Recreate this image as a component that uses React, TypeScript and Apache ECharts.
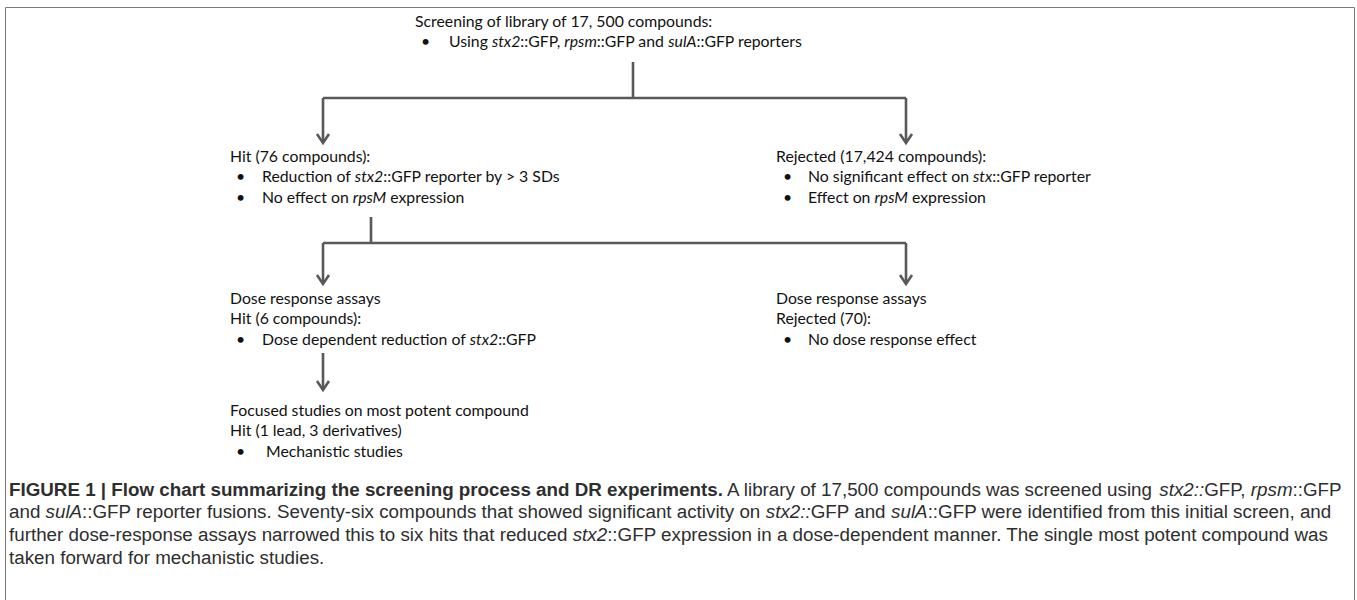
import React, { useEffect, useRef } from "react";
import * as echarts from "echarts";

// ---------- content (markup: _italic_, **bold**) ----------
const screeningTitle = ["Screening of library of 17, 500 compounds:"];
const screeningBullets = ["Using _stx2_::GFP, _rpsm_::GFP and _sulA_::GFP reporters"];

const hitTitle = ["Hit (76 compounds):"];
const hitBullets = ["Reduction of _stx2_::GFP reporter by > 3 SDs", "No effect on _rpsM_ expression"];

const rejectedTitle = ["Rejected (17,424 compounds):"];
const rejectedBullets = ["No significant effect on _stx_::GFP reporter", "Effect on _rpsM_ expression"];

const doseHitTitle = ["Dose response assays", "Hit (6 compounds):"];
const doseHitBullets = ["Dose dependent reduction of _stx2_::GFP"];

const doseRejTitle = ["Dose response assays", "Rejected (70):"];
const doseRejBullets = ["No dose response effect"];

const focusedTitle = ["Focused studies on most potent compound", "Hit (1 lead, 3 derivatives)"];
const focusedBullets = ["Mechanistic studies"];

const captionLines = [
  "**FIGURE 1 | Flow chart summarizing the screening process and DR experiments.** A library of 17,500 compounds was screened using _stx2::_GFP, _rpsm_::GFP",
  "and _sulA_::GFP reporter fusions. Seventy-six compounds that showed significant activity on _stx2::_GFP and _sulA_::GFP were identified from this initial screen, and",
  "further dose-response assays narrowed this to six hits that reduced _stx2_::GFP expression in a dose-dependent manner. The single most potent compound was",
  "taken forward for mechanistic studies.",
];

// ---------- layout ----------
const FLOW_FONT = "Lato, 'Open Sans', sans-serif";
const CAP_FONT = "'Liberation Sans Narrow', 'Liberation Sans', Arial, sans-serif";
const LINE_COLOR = "#595959";

const nodes = [
  { title: screeningTitle, bullets: screeningBullets, x: 415, y: 20, bx: 6, tx: 34 },
  { title: hitTitle, bullets: hitBullets, x: 230, y: 155, bx: 6, tx: 32 },
  { title: rejectedTitle, bullets: rejectedBullets, x: 776, y: 155, bx: 7, tx: 32 },
  { title: doseHitTitle, bullets: doseHitBullets, x: 230, y: 297, bx: 6, tx: 32 },
  { title: doseRejTitle, bullets: doseRejBullets, x: 776, y: 297, bx: 7, tx: 32 },
  { title: focusedTitle, bullets: focusedBullets, x: 230, y: 409, bx: 6, tx: 36 },
];

const connectors: { pts: number[][]; arrow: boolean }[] = [
  { pts: [[633, 62], [633, 98]], arrow: false },
  { pts: [[323, 98], [906, 98]], arrow: false },
  { pts: [[323, 98], [323, 143]], arrow: true },
  { pts: [[906, 98], [906, 143]], arrow: true },
  { pts: [[371, 217], [371, 243]], arrow: false },
  { pts: [[323, 243], [906, 243]], arrow: false },
  { pts: [[323, 243], [323, 284]], arrow: true },
  { pts: [[906, 243], [906, 284]], arrow: true },
  { pts: [[323, 353], [323, 390]], arrow: true },
];

function toRich(s: string): string {
  const parts = s.split(/(\*\*[^*]+\*\*|_[^_]+_)/).filter((p) => p.length > 0);
  return parts
    .map((p) => {
      if (p.startsWith("**")) return `{b|${p.slice(2, -2)}}`;
      if (p.startsWith("_") && p.endsWith("_") && p.length > 1) return `{i|${p.slice(1, -1)}}`;
      return `{n|${p}}`;
    })
    .join("");
}

function richStyles(font: string, size: number, fill: string) {
  return {
    n: { fontFamily: font, fontSize: size, fill, fontStyle: "normal", fontWeight: "normal" },
    i: { fontFamily: font, fontSize: size, fill, fontStyle: "italic", fontWeight: "normal" },
    b: { fontFamily: font, fontSize: size, fill, fontStyle: "normal", fontWeight: "bold" },
  };
}

function buildGraphic() {
  const els: any[] = [];
  els.push({
    type: "rect",
    shape: { x: 5.5, y: 7.5, width: 1349, height: 620 },
    style: { fill: "#fff", stroke: "#7a7a7a", lineWidth: 1 },
    silent: true,
  });
  const FS = 15.8;
  const LH = 20.5;
  nodes.forEach((nd) => {
    let y = nd.y;
    nd.title.forEach((t) => {
      els.push({
        type: "text",
        x: nd.x,
        y,
        style: { text: toRich(t), rich: richStyles(FLOW_FONT, FS, "#111"), verticalAlign: "middle", align: "left", fill: "#111", fontFamily: FLOW_FONT, fontSize: FS },
      });
      y += LH;
    });
    nd.bullets.forEach((b) => {
      els.push({
        type: "text",
        x: nd.x + nd.bx,
        y,
        style: { text: "•", fill: "#111", fontFamily: FLOW_FONT, fontSize: FS, verticalAlign: "middle" },
      });
      els.push({
        type: "text",
        x: nd.x + nd.tx,
        y,
        style: { text: toRich(b), rich: richStyles(FLOW_FONT, FS, "#111"), verticalAlign: "middle", align: "left", fill: "#111", fontFamily: FLOW_FONT, fontSize: FS },
      });
      y += LH;
    });
  });
  connectors.forEach((c) => {
    els.push({
      type: "polyline",
      shape: { points: c.pts },
      style: { stroke: LINE_COLOR, lineWidth: 2.6, fill: null },
      silent: true,
    });
    if (c.arrow) {
      const [x, y] = c.pts[c.pts.length - 1];
      els.push({
        type: "polyline",
        shape: { points: [[x - 6, y - 9], [x, y], [x + 6, y - 9]] },
        style: { stroke: LINE_COLOR, lineWidth: 2.6, fill: null, lineJoin: "miter" },
        silent: true,
      });
    }
  });
  const CFS = 18.8;
  captionLines.forEach((l, k) => {
    els.push({
      type: "text",
      x: 9,
      y: 489 + k * 22.7,
      style: { text: toRich(l), rich: richStyles(CAP_FONT, CFS, "#2e2e2e"), verticalAlign: "middle", align: "left", fill: "#2e2e2e", fontFamily: CAP_FONT, fontSize: CFS },
    });
  });
  return els;
}

export default function App() {
  const ref = useRef<HTMLDivElement>(null);
  useEffect(() => {
    document.body.style.margin = "0";
    if (!ref.current) return;
    const chart = echarts.init(ref.current, undefined, { renderer: "svg" });
    chart.setOption({
      animation: false,
      backgroundColor: "#ffffff",
      graphic: { elements: buildGraphic() },
    });
    return () => chart.dispose();
  }, []);
  return <div ref={ref} style={{ position: "fixed", left: 0, top: 0, width: 1357, height: 600 }} />;
}
